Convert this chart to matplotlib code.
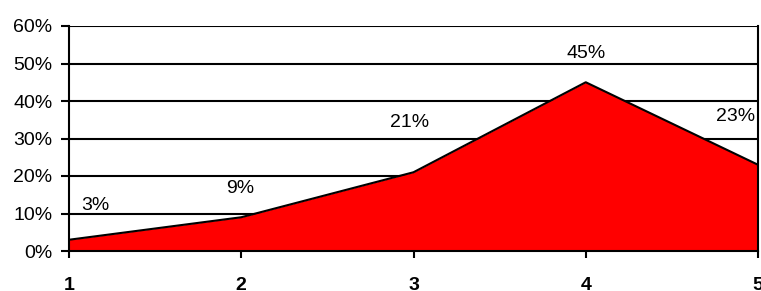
import matplotlib
matplotlib.use("Agg")
import matplotlib.pyplot as plt
from matplotlib.ticker import FuncFormatter

categories = [1, 2, 3, 4, 5]
values = [3, 9, 21, 45, 23]
labels = ["3%", "9%", "21%", "45%", "23%"]
yticks = [0, 10, 20, 30, 40, 50, 60]

# label offsets in pixels (dx, dy up)
offsets = [(26, 34), (-1, 29), (-4, 50), (0, 29), (-22, 48)]

plt.rcParams['font.family'] = ['Liberation Sans', 'DejaVu Sans']
fig = plt.figure(figsize=(7.61, 2.91), dpi=100)
ax = fig.add_axes([69/761, 40/291, (758-69)/761, (251-26)/291])

ax.fill_between(categories, values, 0, color='#ff0000', linewidth=0, zorder=2)
ax.plot(categories, values, color='black', linewidth=1.5, zorder=3)

ax.set_xlim(1, 5)
ax.set_ylim(0, 60)
ax.set_yticks(yticks)
ax.yaxis.set_major_formatter(FuncFormatter(lambda v, p: f"{int(v)}%"))
ax.set_xticks(categories)
ax.set_xticklabels([str(c) for c in categories], fontweight='bold')
for y in yticks[1:]:
    ax.axhline(y, color='black', linewidth=1.5, zorder=1)

for s in ['left', 'bottom', 'right']:
    ax.spines[s].set_linewidth(1.5)
    ax.spines[s].set_zorder(4)
ax.spines['top'].set_visible(False)

ax.tick_params(axis='y', length=6, width=1.5, labelsize=14, pad=6)
ax.tick_params(axis='x', length=5, width=1.5, labelsize=14, pad=14)

for c, v, lab, (dx, dy) in zip(categories, values, labels, offsets):
    ax.annotate(lab, (c, v), xytext=(dx * 0.72, dy * 0.72), textcoords='offset points',
                ha='center', va='center', fontsize=14, zorder=5)

fig.savefig("out.png", dpi=100)
